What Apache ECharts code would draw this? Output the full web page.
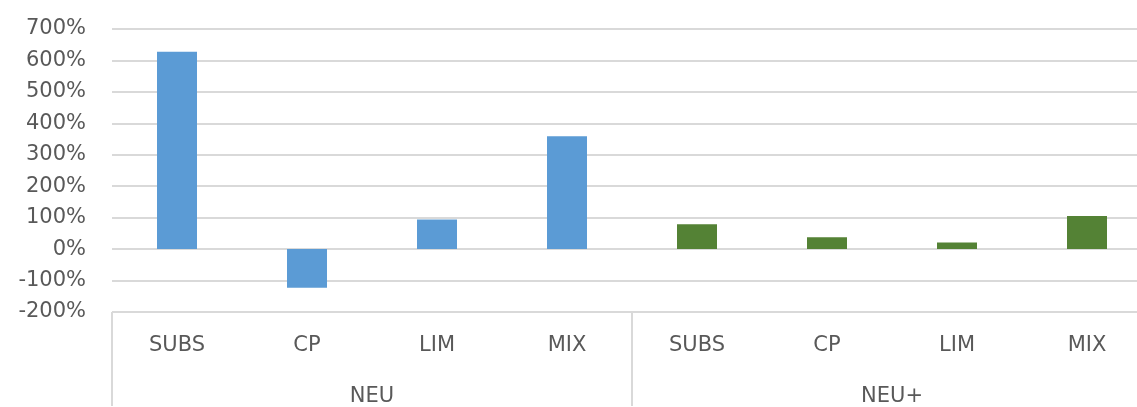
<!DOCTYPE html>
<html>
<head>
<meta charset="utf-8">
<style>
html,body{margin:0;padding:0;background:#fff;overflow:hidden;width:1137px;height:407px;}
#chart{width:1152px;height:407px;}
</style>
<script src="https://cdn.jsdelivr.net/npm/echarts@6/dist/echarts.min.js"></script>
</head>
<body>
<div id="chart"></div>
<script>
const categories = ['SUBS', 'CP', 'LIM', 'MIX', 'SUBS', 'CP', 'LIM', 'MIX'];
const groups = ['NEU', 'NEU+'];
const neuValues = [628, -123, 94, 359, '-', '-', '-', '-'];
const neuPlusValues = ['-', '-', '-', '-', 79, 38, 21, 105];
const yMin = -200, yMax = 700, yStep = 100;

const FONT = 'DejaVu Sans';
const TXT = '#595959';
const GRID = '#d9d9d9';

const chart = echarts.init(document.getElementById('chart'));
chart.setOption({
  animation: false,
  textStyle: { fontFamily: FONT },
  grid: { left: 112, right: 0, top: 29, bottom: 94, containLabel: false },
  xAxis: [
    {
      type: 'category',
      data: categories,
      position: 'bottom',
      axisLine: { show: false },
      axisTick: { show: false },
      axisLabel: { interval: 0, margin: 23, color: TXT, fontSize: 21, fontFamily: FONT }
    },
    {
      type: 'category',
      data: groups,
      position: 'bottom',
      offset: 0,
      axisLine: { show: false },
      axisTick: { show: true, length: 94, interval: 0, lineStyle: { color: GRID, width: 2 } },
      axisLabel: { interval: 0, margin: 74, color: TXT, fontSize: 21, fontFamily: FONT }
    }
  ],
  yAxis: {
    type: 'value',
    min: yMin, max: yMax, interval: yStep,
    axisLine: { show: false },
    axisTick: { show: false },
    splitLine: { show: true, lineStyle: { color: GRID, width: 2 } },
    axisLabel: { margin: 26, color: TXT, fontSize: 21, fontFamily: FONT, formatter: v => v + '%' }
  },
  series: [
    { name: 'NEU', type: 'bar', stack: 'all', xAxisIndex: 0, barWidth: 40, data: neuValues, itemStyle: { color: '#5B9BD5' } },
    { name: 'NEU+', type: 'bar', stack: 'all', xAxisIndex: 0, barWidth: 40, data: neuPlusValues, itemStyle: { color: '#548235' } }
  ]
});
</script>
</body>
</html>
